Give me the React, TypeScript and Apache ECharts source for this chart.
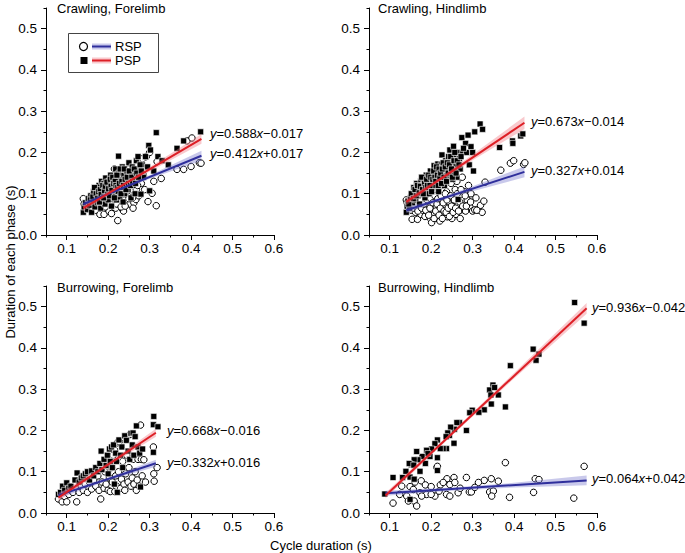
import React, { useEffect, useRef } from "react";
import * as echarts from "echarts";

const FONT = '"Liberation Sans", Arial, Helvetica, sans-serif';

const panelTitles = ["Crawling, Forelimb", "Crawling, Hindlimb", "Burrowing, Forelimb", "Burrowing, Hindlimb"];
const xTickValues = [0.1, 0.2, 0.3, 0.4, 0.5, 0.6];
const yTickValues = [0, 0.1, 0.2, 0.3, 0.4, 0.5];
const legendNames = ["RSP", "PSP"];
const xAxisTitle = "Cycle duration (s)";
const yAxisTitle = "Duration of each phase (s)";

// Equations [RSP, PSP] per panel
const equationsRSP = ["y=0.412x+0.017", "y=0.327x+0.014", "y=0.332x+0.016", "y=0.064x+0.042"];
const equationsPSP = ["y=0.588x\u22120.017", "y=0.673x\u22120.014", "y=0.668x\u22120.016", "y=0.936x\u22120.042"];

// ---------- Crawling, Forelimb ----------
const cfRSP = [
  [0.14, 0.088], [0.142, 0.075], [0.145, 0.068], [0.15, 0.063], [0.152, 0.082], [0.158, 0.07], [0.16, 0.09],
  [0.162, 0.065], [0.165, 0.1], [0.168, 0.078], [0.17, 0.06], [0.172, 0.088], [0.175, 0.108], [0.178, 0.07],
  [0.18, 0.05], [0.182, 0.095], [0.185, 0.08], [0.186, 0.115], [0.188, 0.062], [0.19, 0.05], [0.192, 0.1],
  [0.195, 0.085], [0.196, 0.125], [0.198, 0.072], [0.2, 0.11], [0.202, 0.058], [0.205, 0.095], [0.206, 0.135],
  [0.208, 0.052], [0.21, 0.08], [0.212, 0.12], [0.214, 0.105], [0.215, 0.16], [0.218, 0.065], [0.22, 0.09],
  [0.222, 0.14], [0.223, 0.035], [0.225, 0.112], [0.228, 0.075], [0.23, 0.128], [0.232, 0.098], [0.235, 0.062],
  [0.237, 0.058], [0.238, 0.15], [0.24, 0.085], [0.242, 0.118], [0.245, 0.135], [0.248, 0.095], [0.25, 0.16],
  [0.252, 0.075], [0.255, 0.125], [0.258, 0.105], [0.26, 0.145], [0.262, 0.078], [0.265, 0.115], [0.267, 0.086],
  [0.27, 0.135], [0.272, 0.1], [0.275, 0.185], [0.28, 0.125], [0.283, 0.185], [0.285, 0.145], [0.292, 0.19],
  [0.296, 0.081], [0.3, 0.2], [0.306, 0.101], [0.31, 0.13], [0.316, 0.071], [0.318, 0.178], [0.328, 0.137],
  [0.366, 0.159], [0.382, 0.159], [0.39, 0.228], [0.4, 0.166], [0.402, 0.235], [0.42, 0.175], [0.424, 0.174],
  [0.155, 0.085], [0.163, 0.078], [0.17, 0.095], [0.174, 0.072], [0.177, 0.09], [0.18, 0.105], [0.183, 0.07],
  [0.187, 0.1], [0.19, 0.088], [0.193, 0.068], [0.197, 0.105], [0.2, 0.09], [0.203, 0.12], [0.206, 0.075],
  [0.209, 0.1], [0.211, 0.088], [0.213, 0.13], [0.216, 0.095], [0.219, 0.115], [0.221, 0.075], [0.224, 0.125],
  [0.226, 0.09], [0.229, 0.105], [0.231, 0.068], [0.233, 0.14], [0.236, 0.1], [0.239, 0.125], [0.241, 0.07],
  [0.244, 0.105], [0.247, 0.15], [0.25, 0.088], [0.253, 0.14], [0.256, 0.11], [0.259, 0.09], [0.261, 0.125],
  [0.264, 0.155], [0.268, 0.11], [0.271, 0.12], [0.274, 0.095], [0.278, 0.14], [0.288, 0.11], [0.26, 0.065],
];
const cfPSP = [
  [0.14, 0.055], [0.142, 0.068], [0.145, 0.078], [0.15, 0.062], [0.152, 0.088], [0.155, 0.072], [0.158, 0.095],
  [0.16, 0.055], [0.162, 0.08], [0.165, 0.105], [0.168, 0.068], [0.17, 0.09], [0.172, 0.11], [0.175, 0.078],
  [0.178, 0.12], [0.18, 0.095], [0.182, 0.065], [0.184, 0.13], [0.186, 0.085], [0.188, 0.105], [0.19, 0.125],
  [0.192, 0.075], [0.194, 0.138], [0.196, 0.095], [0.198, 0.115], [0.2, 0.085], [0.202, 0.13], [0.204, 0.105],
  [0.206, 0.145], [0.208, 0.07], [0.21, 0.12], [0.212, 0.095], [0.214, 0.138], [0.216, 0.11], [0.218, 0.16],
  [0.22, 0.085], [0.222, 0.128], [0.224, 0.105], [0.225, 0.191], [0.226, 0.15], [0.228, 0.092], [0.23, 0.135],
  [0.232, 0.115], [0.234, 0.165], [0.236, 0.08], [0.238, 0.145], [0.24, 0.1], [0.242, 0.125], [0.245, 0.155],
  [0.248, 0.11], [0.25, 0.175], [0.252, 0.135], [0.255, 0.09], [0.258, 0.165], [0.26, 0.12], [0.262, 0.145],
  [0.265, 0.1], [0.268, 0.18], [0.27, 0.135], [0.272, 0.19], [0.275, 0.155], [0.279, 0.099], [0.282, 0.17],
  [0.285, 0.14], [0.29, 0.19], [0.295, 0.165], [0.298, 0.217], [0.3, 0.107], [0.302, 0.206], [0.31, 0.155],
  [0.316, 0.248], [0.32, 0.19], [0.33, 0.18], [0.345, 0.17], [0.366, 0.21], [0.382, 0.228], [0.423, 0.25],
  [0.157, 0.085], [0.163, 0.092], [0.167, 0.115], [0.171, 0.1], [0.174, 0.088], [0.177, 0.105], [0.179, 0.08],
  [0.181, 0.11], [0.183, 0.098], [0.187, 0.12], [0.189, 0.09], [0.191, 0.108], [0.193, 0.118], [0.197, 0.128],
  [0.199, 0.1], [0.201, 0.112], [0.203, 0.095], [0.205, 0.135], [0.207, 0.118], [0.209, 0.108], [0.211, 0.14],
  [0.213, 0.125], [0.215, 0.09], [0.217, 0.13], [0.219, 0.12], [0.221, 0.145], [0.223, 0.115], [0.227, 0.125],
  [0.229, 0.16], [0.231, 0.1], [0.233, 0.13], [0.237, 0.12], [0.239, 0.16], [0.241, 0.135], [0.243, 0.11],
  [0.246, 0.14], [0.249, 0.125], [0.251, 0.155], [0.254, 0.12], [0.257, 0.14], [0.259, 0.13], [0.263, 0.16],
  [0.266, 0.125], [0.269, 0.15], [0.273, 0.14], [0.277, 0.17], [0.28, 0.155],
];
const cfRSPFit = [[0.14, 0.0747], [0.425, 0.1921]];
const cfPSPFit = [[0.14, 0.0653], [0.425, 0.2329]];
const cfRSPBand = [[0.14, 0.069, 0.081], [0.22, 0.105, 0.11], [0.3, 0.136, 0.145], [0.425, 0.18, 0.204]];
const cfPSPBand = [[0.14, 0.058, 0.072], [0.22, 0.109, 0.116], [0.3, 0.154, 0.165], [0.425, 0.221, 0.245]];

// ---------- Crawling, Hindlimb ----------
const chRSP = [
  [0.14, 0.085], [0.142, 0.078], [0.145, 0.07], [0.15, 0.09], [0.152, 0.06], [0.154, 0.038], [0.156, 0.075],
  [0.16, 0.095], [0.162, 0.055], [0.165, 0.085], [0.167, 0.038], [0.17, 0.068], [0.172, 0.1], [0.175, 0.05],
  [0.178, 0.08], [0.18, 0.06], [0.182, 0.11], [0.185, 0.045], [0.188, 0.088], [0.19, 0.07], [0.192, 0.055],
  [0.195, 0.098], [0.198, 0.04], [0.2, 0.075], [0.201, 0.03], [0.203, 0.062], [0.205, 0.115], [0.208, 0.05],
  [0.21, 0.085], [0.212, 0.068], [0.215, 0.04], [0.217, 0.1], [0.22, 0.055], [0.221, 0.034], [0.223, 0.078],
  [0.225, 0.12], [0.228, 0.062], [0.23, 0.045], [0.232, 0.09], [0.235, 0.07], [0.237, 0.105], [0.239, 0.044],
  [0.242, 0.08], [0.245, 0.058], [0.248, 0.125], [0.25, 0.04], [0.252, 0.088], [0.255, 0.068], [0.258, 0.11],
  [0.26, 0.05], [0.262, 0.13], [0.265, 0.075], [0.268, 0.095], [0.27, 0.04], [0.273, 0.061], [0.275, 0.14],
  [0.278, 0.085], [0.28, 0.105], [0.283, 0.058], [0.287, 0.085], [0.29, 0.12], [0.293, 0.069], [0.296, 0.1],
  [0.3, 0.058], [0.305, 0.061], [0.308, 0.09], [0.313, 0.061], [0.319, 0.072], [0.323, 0.055], [0.327, 0.082],
  [0.33, 0.128], [0.368, 0.157], [0.391, 0.174], [0.399, 0.18], [0.423, 0.171], [0.426, 0.175],
  [0.158, 0.065], [0.163, 0.07], [0.168, 0.058], [0.173, 0.085], [0.177, 0.065], [0.183, 0.075], [0.187, 0.06],
  [0.191, 0.085], [0.194, 0.048], [0.197, 0.065], [0.199, 0.088], [0.204, 0.078], [0.207, 0.04], [0.209, 0.095],
  [0.211, 0.058], [0.214, 0.075], [0.216, 0.088], [0.219, 0.048], [0.222, 0.065], [0.224, 0.095], [0.227, 0.04],
  [0.229, 0.078], [0.231, 0.058], [0.234, 0.1], [0.236, 0.055], [0.238, 0.085], [0.241, 0.065], [0.244, 0.045],
  [0.247, 0.095], [0.249, 0.07], [0.253, 0.055], [0.256, 0.085], [0.259, 0.065], [0.263, 0.1], [0.266, 0.058],
  [0.269, 0.08], [0.272, 0.11], [0.276, 0.07], [0.282, 0.095], [0.285, 0.07], [0.295, 0.08], [0.31, 0.06],
];
const chPSP = [
  [0.14, 0.055], [0.142, 0.07], [0.144, 0.082], [0.148, 0.065], [0.15, 0.09], [0.155, 0.078], [0.158, 0.115],
  [0.16, 0.1], [0.163, 0.085], [0.165, 0.125], [0.168, 0.095], [0.17, 0.11], [0.172, 0.075], [0.175, 0.13],
  [0.178, 0.1], [0.18, 0.12], [0.182, 0.135], [0.185, 0.09], [0.188, 0.145], [0.19, 0.11], [0.192, 0.125],
  [0.195, 0.1], [0.198, 0.155], [0.2, 0.13], [0.202, 0.115], [0.205, 0.145], [0.207, 0.168], [0.21, 0.12],
  [0.212, 0.155], [0.214, 0.135], [0.216, 0.172], [0.218, 0.105], [0.22, 0.15], [0.222, 0.13], [0.224, 0.17],
  [0.226, 0.194], [0.228, 0.14], [0.23, 0.16], [0.232, 0.12], [0.235, 0.18], [0.238, 0.145], [0.24, 0.165],
  [0.242, 0.19], [0.245, 0.206], [0.248, 0.15], [0.25, 0.175], [0.252, 0.135], [0.254, 0.215], [0.256, 0.16],
  [0.258, 0.195], [0.26, 0.17], [0.262, 0.14], [0.265, 0.2], [0.268, 0.185], [0.27, 0.16], [0.274, 0.236],
  [0.276, 0.2], [0.265, 0.086], [0.283, 0.222], [0.285, 0.2], [0.289, 0.242], [0.292, 0.17], [0.296, 0.214],
  [0.3, 0.2], [0.302, 0.155], [0.305, 0.25], [0.318, 0.269], [0.324, 0.256], [0.365, 0.212], [0.396, 0.228],
  [0.397, 0.222], [0.416, 0.24], [0.421, 0.245],
  [0.146, 0.075], [0.152, 0.1], [0.157, 0.088], [0.161, 0.11], [0.164, 0.095], [0.167, 0.12], [0.171, 0.102],
  [0.174, 0.118], [0.177, 0.14], [0.179, 0.11], [0.181, 0.1], [0.184, 0.125], [0.187, 0.115], [0.189, 0.135],
  [0.191, 0.12], [0.194, 0.145], [0.197, 0.12], [0.199, 0.14], [0.201, 0.105], [0.204, 0.135], [0.206, 0.155],
  [0.209, 0.14], [0.211, 0.13], [0.213, 0.165], [0.215, 0.145], [0.217, 0.12], [0.219, 0.16], [0.221, 0.14],
  [0.223, 0.15], [0.225, 0.125], [0.227, 0.16], [0.229, 0.175], [0.231, 0.14], [0.234, 0.165], [0.237, 0.13],
  [0.239, 0.175], [0.241, 0.15], [0.244, 0.17], [0.247, 0.19], [0.249, 0.16], [0.251, 0.14], [0.255, 0.18],
  [0.257, 0.2], [0.26, 0.15], [0.263, 0.18], [0.267, 0.17], [0.272, 0.19], [0.278, 0.21],
];
const chRSPFit = [[0.14, 0.0598], [0.425, 0.153]];
const chPSPFit = [[0.14, 0.0802], [0.425, 0.272]];
const chRSPBand = [[0.14, 0.053, 0.067], [0.22, 0.082, 0.09], [0.3, 0.106, 0.118], [0.425, 0.14, 0.166]];
const chPSPBand = [[0.14, 0.072, 0.088], [0.22, 0.13, 0.138], [0.3, 0.181, 0.195], [0.425, 0.257, 0.287]];

// ---------- Burrowing, Forelimb ----------
const bfRSP = [
  [0.08, 0.034], [0.085, 0.045], [0.089, 0.027], [0.095, 0.04], [0.1, 0.027], [0.1, 0.05], [0.105, 0.045],
  [0.11, 0.055], [0.115, 0.05], [0.124, 0.027], [0.125, 0.06], [0.13, 0.05], [0.135, 0.065], [0.14, 0.055],
  [0.145, 0.07], [0.15, 0.05], [0.155, 0.075], [0.16, 0.058], [0.165, 0.08], [0.17, 0.065], [0.175, 0.09],
  [0.178, 0.055], [0.182, 0.034], [0.185, 0.075], [0.19, 0.06], [0.192, 0.1], [0.195, 0.07], [0.198, 0.125],
  [0.2, 0.055], [0.203, 0.085], [0.205, 0.052], [0.208, 0.11], [0.21, 0.075], [0.212, 0.14], [0.215, 0.153],
  [0.216, 0.052], [0.218, 0.09], [0.22, 0.065], [0.222, 0.17], [0.225, 0.1], [0.227, 0.173], [0.23, 0.06],
  [0.232, 0.082], [0.235, 0.125], [0.238, 0.07], [0.24, 0.055], [0.242, 0.095], [0.245, 0.14], [0.248, 0.075],
  [0.25, 0.11], [0.252, 0.19], [0.255, 0.065], [0.258, 0.085], [0.26, 0.13], [0.262, 0.07], [0.265, 0.1],
  [0.268, 0.055], [0.27, 0.08], [0.272, 0.13], [0.275, 0.065], [0.278, 0.213], [0.28, 0.13], [0.282, 0.09],
  [0.286, 0.129], [0.29, 0.075], [0.309, 0.16], [0.31, 0.095], [0.311, 0.077], [0.318, 0.11],
];
const bfPSP = [
  [0.08, 0.045], [0.085, 0.05], [0.09, 0.065], [0.095, 0.055], [0.1, 0.073], [0.105, 0.06], [0.11, 0.065],
  [0.12, 0.08], [0.125, 0.097], [0.13, 0.075], [0.135, 0.085], [0.14, 0.09], [0.145, 0.095], [0.15, 0.1],
  [0.155, 0.08], [0.16, 0.102], [0.165, 0.09], [0.17, 0.11], [0.175, 0.1], [0.18, 0.12], [0.183, 0.15],
  [0.185, 0.105], [0.19, 0.13], [0.195, 0.115], [0.198, 0.14], [0.2, 0.095], [0.203, 0.155], [0.205, 0.125],
  [0.208, 0.16], [0.21, 0.11], [0.213, 0.165], [0.215, 0.07], [0.218, 0.145], [0.22, 0.125], [0.222, 0.05],
  [0.226, 0.177], [0.23, 0.14], [0.233, 0.16], [0.235, 0.11], [0.24, 0.187], [0.244, 0.176], [0.248, 0.15],
  [0.252, 0.13], [0.255, 0.193], [0.258, 0.165], [0.26, 0.194], [0.262, 0.14], [0.265, 0.185], [0.268, 0.211],
  [0.272, 0.16], [0.276, 0.145], [0.278, 0.063], [0.283, 0.155], [0.309, 0.214], [0.31, 0.234], [0.309, 0.147],
  [0.32, 0.209],
];
const bfRSPFit = [[0.08, 0.0426], [0.315, 0.1206]];
const bfPSPFit = [[0.08, 0.0374], [0.315, 0.1944]];
const bfRSPBand = [[0.08, 0.035, 0.05], [0.2, 0.079, 0.086], [0.315, 0.112, 0.129]];
const bfPSPBand = [[0.08, 0.029, 0.046], [0.2, 0.113, 0.122], [0.315, 0.185, 0.204]];

// ---------- Burrowing, Hindlimb ----------
const bhRSP = [
  [0.379, 0.122], [0.569, 0.113], [0.214, 0.11], [0.215, 0.113], [0.255, 0.086], [0.238, 0.083], [0.285, 0.086],
  [0.345, 0.083], [0.328, 0.079], [0.314, 0.074], [0.362, 0.077], [0.451, 0.083], [0.46, 0.081], [0.176, 0.078],
  [0.186, 0.068], [0.2, 0.064], [0.222, 0.068], [0.229, 0.074], [0.245, 0.069], [0.257, 0.074], [0.161, 0.075],
  [0.149, 0.064], [0.129, 0.065], [0.157, 0.057], [0.173, 0.049], [0.189, 0.045], [0.209, 0.041], [0.219, 0.053],
  [0.237, 0.045], [0.245, 0.041], [0.265, 0.049], [0.292, 0.051], [0.297, 0.051], [0.341, 0.051], [0.35, 0.053],
  [0.346, 0.041], [0.447, 0.05], [0.544, 0.036], [0.389, 0.038], [0.141, 0.041], [0.145, 0.029], [0.159, 0.029],
  [0.165, 0.017], [0.108, 0.024], [0.124, 0.045], [0.177, 0.041], [0.2, 0.045], [0.27, 0.06], [0.305, 0.062],
];
const bhPSP = [
  [0.546, 0.51], [0.569, 0.46], [0.446, 0.397], [0.453, 0.37], [0.46, 0.385], [0.391, 0.357], [0.349, 0.31],
  [0.341, 0.298], [0.353, 0.304], [0.362, 0.286], [0.344, 0.286], [0.345, 0.264], [0.379, 0.257], [0.328, 0.25],
  [0.315, 0.244], [0.299, 0.249], [0.293, 0.243], [0.285, 0.2], [0.268, 0.219], [0.262, 0.219], [0.256, 0.203],
  [0.247, 0.208], [0.244, 0.188], [0.255, 0.169], [0.24, 0.194], [0.236, 0.185], [0.237, 0.156], [0.229, 0.156],
  [0.222, 0.156], [0.215, 0.177], [0.209, 0.168], [0.215, 0.134], [0.215, 0.103], [0.201, 0.155], [0.197, 0.137],
  [0.189, 0.152], [0.192, 0.144], [0.186, 0.12], [0.178, 0.137], [0.168, 0.129], [0.165, 0.149], [0.159, 0.129],
  [0.152, 0.117], [0.147, 0.12], [0.158, 0.116], [0.173, 0.101], [0.139, 0.101], [0.131, 0.086], [0.149, 0.087],
  [0.159, 0.082], [0.108, 0.086], [0.088, 0.046], [0.149, 0.033],
];
const bhRSPFit = [[0.09, 0.0478], [0.575, 0.0788]];
const bhPSPFit = [[0.09, 0.0422], [0.575, 0.496]];
const bhRSPBand = [[0.09, 0.042, 0.054], [0.25, 0.054, 0.062], [0.4, 0.062, 0.073], [0.575, 0.067, 0.091]];
const bhPSPBand = [[0.09, 0.036, 0.049], [0.25, 0.188, 0.196], [0.4, 0.326, 0.339], [0.575, 0.483, 0.509]];

const panelsRSP = [cfRSP, chRSP, bfRSP, bhRSP];
const panelsPSP = [cfPSP, chPSP, bfPSP, bhPSP];
const fitsRSP = [cfRSPFit, chRSPFit, bfRSPFit, bhRSPFit];
const fitsPSP = [cfPSPFit, chPSPFit, bfPSPFit, bhPSPFit];
const bandsRSP = [cfRSPBand, chRSPBand, bfRSPBand, bhRSPBand];
const bandsPSP = [cfPSPBand, chPSPBand, bfPSPBand, bhPSPBand];

// ---------- styles / layout ----------
const RED = "#dd1f26";
const BLUE = "#2f2f9c";
const RED_BAND = "rgba(240, 120, 130, 0.4)";
const BLUE_BAND = "rgba(120, 120, 205, 0.4)";
const TEXT = "#000";

const gridPos = [
  { left: 46, top: 8 },
  { left: 369, top: 8 },
  { left: 46, top: 286 },
  { left: 369, top: 286 },
];
const GRID_W = 228;
const GRID_H = 227;

const titlePos = [
  [57, 8],
  [378, 8],
  [57, 287],
  [378, 287],
];
const eqPos = [
  { psp: [210, 133], rsp: [210, 153] },
  { psp: [531, 121], rsp: [531, 170] },
  { psp: [167, 430], rsp: [167, 462] },
  { psp: [592, 307], rsp: [592, 478] },
];

function richEq(s: string) {
  return s.replace(/y/g, "{i|y}").replace(/x/g, "{i|x}");
}

function bandSeries(band: number[][], color: string, idx: number) {
  return {
    type: "custom",
    xAxisIndex: idx * 2,
    yAxisIndex: idx * 2,
    data: band,
    encode: { x: 0, y: [1, 2] },
    silent: true,
    z: 3,
    renderItem: (params: any, api: any) => {
      if (params.dataIndex !== 0) return null;
      const lower = band.map((b) => api.coord([b[0], b[1]]));
      const upper = band.map((b) => api.coord([b[0], b[2]])).reverse();
      return {
        type: "polygon",
        shape: { points: lower.concat(upper) },
        style: { fill: color, stroke: null },
      };
    },
  };
}

function buildOption() {
  const grid: any[] = [];
  const xAxis: any[] = [];
  const yAxis: any[] = [];
  const series: any[] = [];
  const graphic: any[] = [];

  for (let p = 0; p < 4; p++) {
    grid.push({ left: gridPos[p].left, top: gridPos[p].top, width: GRID_W, height: GRID_H, containLabel: false });
    xAxis.push({
      type: "value",
      gridIndex: p,
      min: 0.05,
      max: 0.6,
      interval: 0.05,
      axisLine: { show: true, lineStyle: { color: "#000", width: 1 } },
      axisTick: { show: true, length: 2.5, lineStyle: { color: "#000", width: 1 } },
      axisLabel: { show: false },
      splitLine: { show: false },
    });
    xAxis.push({
      type: "value",
      gridIndex: p,
      min: 0.05,
      max: 0.6,
      position: "bottom",
      axisLine: { show: false },
      axisTick: { show: true, length: 5, customValues: xTickValues, lineStyle: { color: "#000", width: 1 } },
      axisLabel: {
        show: true,
        customValues: xTickValues,
        formatter: (v: number) => v.toFixed(1),
        fontSize: 13.5,
        fontFamily: FONT,
        color: TEXT,
        margin: 6,
      },
      splitLine: { show: false },
    });
    yAxis.push({
      type: "value",
      gridIndex: p,
      min: 0,
      max: 0.55,
      interval: 0.05,
      axisLine: { show: true, lineStyle: { color: "#000", width: 1 } },
      axisTick: { show: true, length: 2.5, lineStyle: { color: "#000", width: 1 } },
      axisLabel: { show: false },
      splitLine: { show: false },
    });
    yAxis.push({
      type: "value",
      gridIndex: p,
      min: 0,
      max: 0.55,
      position: "left",
      axisLine: { show: false },
      axisTick: { show: true, length: 5, customValues: yTickValues, lineStyle: { color: "#000", width: 1 } },
      axisLabel: {
        show: true,
        customValues: yTickValues,
        formatter: (v: number) => v.toFixed(1),
        fontSize: 13.5,
        fontFamily: FONT,
        color: TEXT,
        margin: 9,
      },
      splitLine: { show: false },
    });

    series.push({
      name: legendNames[0],
      type: "scatter",
      xAxisIndex: p * 2,
      yAxisIndex: p * 2,
      data: panelsRSP[p],
      symbol: "circle",
      symbolSize: 6.5,
      itemStyle: { color: "#fff", borderColor: "#000", borderWidth: 1, opacity: 1 },
      z: 2,
      silent: true,
    });
    series.push({
      name: legendNames[1],
      type: "scatter",
      xAxisIndex: p * 2,
      yAxisIndex: p * 2,
      data: panelsPSP[p],
      symbol: "rect",
      symbolSize: 6,
      itemStyle: { color: "#000", borderColor: "#fff", borderWidth: 0.6, opacity: 1 },
      z: 2,
      silent: true,
    });
    series.push(bandSeries(bandsRSP[p], BLUE_BAND, p));
    series.push(bandSeries(bandsPSP[p], RED_BAND, p));
    series.push({
      type: "line",
      xAxisIndex: p * 2,
      yAxisIndex: p * 2,
      data: fitsRSP[p],
      symbol: "none",
      lineStyle: { color: BLUE, width: 2 },
      z: 4,
      silent: true,
    });
    series.push({
      type: "line",
      xAxisIndex: p * 2,
      yAxisIndex: p * 2,
      data: fitsPSP[p],
      symbol: "none",
      lineStyle: { color: RED, width: 2 },
      z: 4,
      silent: true,
    });

    graphic.push({
      type: "text",
      x: titlePos[p][0],
      y: titlePos[p][1],
      style: { text: panelTitles[p], fontSize: 13, fontFamily: FONT, fill: TEXT, verticalAlign: "middle", align: "left" },
    });
    const eqStyle = (s: string) => ({
      text: richEq(s),
      fontSize: 13,
      fontFamily: FONT,
      fill: TEXT,
      verticalAlign: "middle",
      align: "left",
      rich: { i: { fontStyle: "italic", fontSize: 13, fontFamily: FONT, fill: TEXT } },
    });
    graphic.push({ type: "text", x: eqPos[p].psp[0], y: eqPos[p].psp[1], style: eqStyle(equationsPSP[p]) });
    graphic.push({ type: "text", x: eqPos[p].rsp[0], y: eqPos[p].rsp[1], style: eqStyle(equationsRSP[p]) });
  }

  graphic.push({
    type: "text",
    x: 270,
    y: 545,
    style: { text: xAxisTitle, fontSize: 13, fontFamily: FONT, fill: TEXT, verticalAlign: "middle", align: "left" },
  });
  graphic.push({
    type: "text",
    x: 10,
    y: 262,
    rotation: Math.PI / 2,
    style: { text: yAxisTitle, fontSize: 13, fontFamily: FONT, fill: TEXT, verticalAlign: "middle", align: "center" },
  });

  graphic.push({
    type: "group",
    z: 10,
    children: [
      { type: "rect", shape: { x: 68.5, y: 33.5, width: 90, height: 39 }, style: { fill: "#fff", stroke: "#444", lineWidth: 1 } },
      { type: "circle", shape: { cx: 83.5, cy: 46.5, r: 4 }, style: { fill: "#fff", stroke: "#000", lineWidth: 1.2 } },
      { type: "rect", shape: { x: 92, y: 43.5, width: 19, height: 6 }, style: { fill: BLUE_BAND } },
      { type: "line", shape: { x1: 92, y1: 46.5, x2: 111, y2: 46.5 }, style: { stroke: BLUE, lineWidth: 2 } },
      { type: "text", x: 115, y: 46.5, style: { text: legendNames[0], fontSize: 13, fontFamily: FONT, fill: TEXT, verticalAlign: "middle" } },
      { type: "rect", shape: { x: 80.5, y: 57, width: 7, height: 7 }, style: { fill: "#000" } },
      { type: "rect", shape: { x: 92, y: 57.5, width: 19, height: 6 }, style: { fill: RED_BAND } },
      { type: "line", shape: { x1: 92, y1: 60.5, x2: 111, y2: 60.5 }, style: { stroke: RED, lineWidth: 2 } },
      { type: "text", x: 115, y: 60.5, style: { text: legendNames[1], fontSize: 13, fontFamily: FONT, fill: TEXT, verticalAlign: "middle" } },
    ],
  });

  return {
    animation: false,
    backgroundColor: "#fff",
    grid,
    xAxis,
    yAxis,
    series,
    graphic,
  };
}

export default function App() {
  const ref = useRef<HTMLDivElement | null>(null);
  useEffect(() => {
    if (!ref.current) return;
    const chart = echarts.init(ref.current, null, { renderer: "svg" });
    chart.setOption(buildOption() as any);
    return () => chart.dispose();
  }, []);
  return <div ref={ref} style={{ position: "absolute", left: 0, top: 0, width: 685, height: 553 }} />;
}
